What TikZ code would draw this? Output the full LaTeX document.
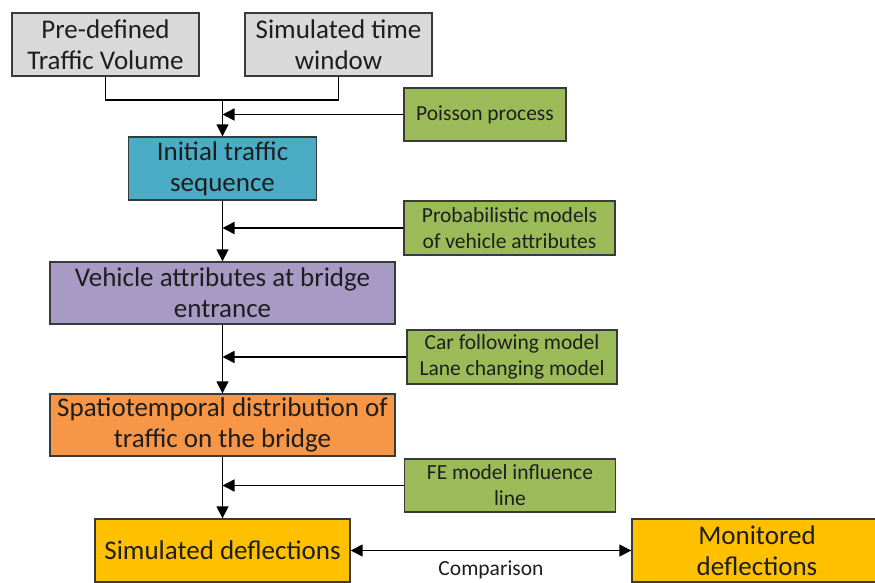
\documentclass[tikz,border=0pt]{standalone}
\usepackage{fontspec}
\setmainfont{Carlito}
\usetikzlibrary{arrows.meta}
\definecolor{bgray}{HTML}{D9D9D9}
\definecolor{bgreen}{HTML}{9BBB59}
\definecolor{bblue}{HTML}{4BACC6}
\definecolor{bpurple}{HTML}{A79BC5}
\definecolor{borange}{HTML}{F79646}
\definecolor{bgold}{HTML}{FFC000}
\definecolor{edge}{HTML}{3A3A3A}
\definecolor{txt}{HTML}{1E1E1E}
\tikzset{
  mainbox/.style={draw=edge, line width=1.4pt, inner sep=0pt, align=center, text=txt,
    font=\fontsize{27}{31}\selectfont},
  sidebox/.style={draw=edge, line width=1.4pt, inner sep=0pt, align=center, text=txt, fill=bgreen,
    font=\fontsize{21.5}{26}\selectfont},
  link/.style={draw=black, line width=1.5pt},
  tip/.tip={Triangle[length=12pt,width=12pt]},
  arrow/.style={link, -tip},
}
\begin{document}
\begin{tikzpicture}[x=1pt,y=-1pt]
\useasboundingbox (0,0) rectangle (875,582);
\clip (0,0) rectangle (875,582);
\node[mainbox, fill=bgray, minimum width=187pt, minimum height=63pt] (pdtv) at (105.5,44.5) {Pre-defined\\Traffic Volume};
\node[mainbox, fill=bgray, minimum width=187pt, minimum height=63pt] (stw) at (338.5,44.5) {Simulated time\\window};
\node[sidebox, minimum width=162pt, minimum height=53pt] (poisson) at (485,114.5) {Poisson process};
\node[mainbox, fill=bblue, minimum width=188pt, minimum height=63pt] (init) at (222.5,168.5) {Initial traffic\\sequence};
\node[sidebox, minimum width=211pt, minimum height=54pt] (prob) at (509.5,228) {Probabilistic models\\of vehicle attributes};
\node[mainbox, fill=bpurple, minimum width=345pt, minimum height=62pt] (veh) at (222.5,293) {Vehicle attributes at bridge\\entrance};
\node[sidebox, minimum width=210pt, minimum height=54pt] (car) at (512,357) {Car following model\\Lane changing model};
\node[mainbox, fill=borange, minimum width=345pt, minimum height=62pt] (spat) at (222.5,425) {Spatiotemporal distribution of\\traffic on the bridge};
\node[sidebox, minimum width=211pt, minimum height=53pt] (fe) at (510,485.5) {FE model influence\\line};
\node[mainbox, fill=bgold, minimum width=255pt, minimum height=63pt] (sim) at (222.5,550.5) {Simulated deflections};
\node[mainbox, fill=bgold, minimum width=250pt, minimum height=63pt] (mon) at (757,550.5) {Monitored\\deflections};

\coordinate (j) at (init.north |- 0,100);
\draw[link] (pdtv.south) |- (j) -| (stw.south);
\draw[arrow] (j) -- (init.north);
\draw[arrow] (poisson.west) -- (poisson.west -| init.north);
\draw[arrow] (init.south) -- (veh.north);
\draw[arrow] (prob.west) -- (prob.west -| init.south);
\draw[arrow] (veh.south) -- (spat.north);
\draw[arrow] (car.west) -- (car.west -| veh.south);
\draw[arrow] (spat.south) -- (sim.north);
\draw[arrow] (fe.west) -- (fe.west -| spat.south);
\draw[link, tip-tip] (sim.east) -- (mon.west)
  node[midway, below=6pt, text=txt, font=\fontsize{21.5}{24}\selectfont] (cmp) {Comparison};
\end{tikzpicture}
\end{document}
